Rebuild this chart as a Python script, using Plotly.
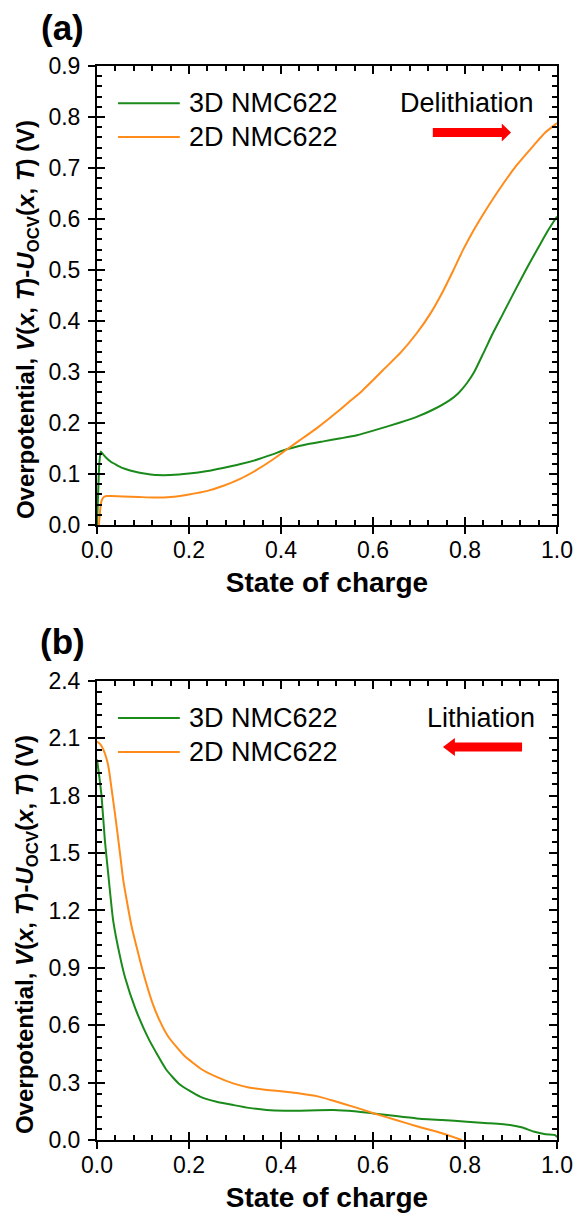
import plotly.graph_objects as go

# ---------------- data ----------------
# Panel (a): delithiation
soc_a_3d = [0, 0.002, 0.005, 0.008, 0.012, 0.02, 0.03, 0.042, 0.055, 0.072, 0.09, 0.11, 0.13,
            0.16, 0.2, 0.24, 0.274, 0.31, 0.347, 0.38, 0.414, 0.45, 0.492, 0.53, 0.565, 0.608,
            0.659, 0.695, 0.73, 0.767, 0.785, 0.804, 0.82, 0.84, 0.86, 0.883, 0.91, 0.934,
            0.96, 0.98, 1.0]
v_a_3d = [0, 0.05, 0.12, 0.144, 0.14, 0.132, 0.124, 0.118, 0.112, 0.107, 0.103, 0.100, 0.098,
          0.098, 0.101, 0.106, 0.112, 0.119, 0.128, 0.138, 0.149, 0.157, 0.164, 0.170, 0.176,
          0.187, 0.201, 0.212, 0.226, 0.245, 0.258, 0.278, 0.300, 0.337, 0.375, 0.415, 0.462,
          0.503, 0.545, 0.577, 0.605]

soc_a_2d = [0.004, 0.006, 0.008, 0.011, 0.015, 0.021, 0.03, 0.057, 0.09, 0.122, 0.16, 0.2,
            0.24, 0.275, 0.31, 0.347, 0.38, 0.414, 0.45, 0.478, 0.52, 0.55, 0.575, 0.6, 0.622,
            0.66, 0.695, 0.725, 0.753, 0.775, 0.796, 0.82, 0.84, 0.87, 0.912, 0.95, 0.975, 1.0]
v_a_2d = [0, 0.02, 0.04, 0.05, 0.055, 0.057, 0.057, 0.056, 0.055, 0.054, 0.055, 0.060,
          0.067, 0.077, 0.090, 0.108, 0.127, 0.149, 0.172, 0.190, 0.220, 0.243, 0.262, 0.284,
          0.304, 0.338, 0.376, 0.415, 0.460, 0.500, 0.540, 0.580, 0.610, 0.652, 0.705, 0.745,
          0.770, 0.788]

# Panel (b): lithiation
soc_b_3d = [0, 0.005, 0.01, 0.017, 0.025, 0.035, 0.05, 0.061, 0.083, 0.112, 0.15, 0.18, 0.224,
            0.26, 0.296, 0.33, 0.369, 0.41, 0.441, 0.48, 0.514, 0.56, 0.601, 0.65, 0.695, 0.75,
            0.804, 0.85, 0.898, 0.925, 0.949, 0.975, 0.996, 1.0]
v_b_3d = [1.99, 1.90, 1.795, 1.57, 1.377, 1.15, 0.96, 0.85, 0.69, 0.53, 0.37, 0.29, 0.227,
          0.20, 0.183, 0.168, 0.157, 0.153, 0.153, 0.156, 0.157, 0.150, 0.139, 0.125, 0.113,
          0.104, 0.096, 0.088, 0.078, 0.065, 0.044, 0.030, 0.026, 0.015]

soc_b_2d = [0, 0.007, 0.014, 0.02, 0.025, 0.032, 0.039, 0.05, 0.057, 0.0645, 0.0754, 0.086,
            0.101, 0.12, 0.137, 0.155, 0.19, 0.227, 0.26, 0.296, 0.33, 0.369, 0.41, 0.441,
            0.48, 0.514, 0.56, 0.601, 0.65, 0.695, 0.75, 0.793]
v_b_2d = [2.083, 2.07, 2.04, 2.0, 1.95, 1.83, 1.708, 1.499, 1.36, 1.255, 1.115, 1.01,
          0.87, 0.72, 0.62, 0.54, 0.44, 0.37, 0.33, 0.296, 0.275, 0.262, 0.252, 0.243,
          0.228, 0.205, 0.172, 0.14, 0.105, 0.072, 0.035, 0.0]

series_names = ["3D NMC622", "2D NMC622"]
x_ticks = [0.0, 0.2, 0.4, 0.6, 0.8, 1.0]
y_ticks_a = [0.0, 0.1, 0.2, 0.3, 0.4, 0.5, 0.6, 0.7, 0.8, 0.9]
y_ticks_b = [0.0, 0.3, 0.6, 0.9, 1.2, 1.5, 1.8, 2.1, 2.4]

GREEN = "#1a8a1a"
ORANGE = "#ff8c1a"
FONT = "Liberation Sans"

fig = go.Figure()

def add_line(x, y, color, xa, ya, name):
    fig.add_trace(go.Scatter(x=x, y=y, mode="lines", name=name, xaxis=xa, yaxis=ya,
                             line=dict(color=color, width=2, shape="spline", smoothing=0.5),
                             showlegend=False, hoverinfo="skip"))

add_line(soc_a_3d, v_a_3d, GREEN, "x", "y", series_names[0])
add_line(soc_a_2d, v_a_2d, ORANGE, "x", "y", series_names[1])
add_line(soc_b_3d, v_b_3d, GREEN, "x2", "y2", series_names[0])
add_line(soc_b_2d, v_b_2d, ORANGE, "x2", "y2", series_names[1])
# invisible traces so the overlay (outside-tick) axes are drawn
for xa, ya in [("x3", "y3"), ("x4", "y4")]:
    fig.add_trace(go.Scatter(x=[None], y=[None], xaxis=xa, yaxis=ya, showlegend=False,
                             hoverinfo="skip"))

tickfont = dict(family=FONT, size=23, color="black")
ytitle = ("<b>Overpotential, <i>V</i>(<i>x</i>, <i>T</i>)-<i>U</i><sub>OCV</sub>"
          "(<i>x</i>, <i>T</i>) (V)</b>")
xtitle = "<b>State of charge</b>"

def main_x(anchor):
    return dict(anchor=anchor, domain=[0, 1], range=[0, 1], tickvals=x_ticks,
                ticktext=[f"{v:.1f}" for v in x_ticks],
                ticks="inside", ticklen=8, tickwidth=2, tickcolor="black",
                minor=dict(tickmode="linear", tick0=0, dtick=0.04, ticks="inside", ticklen=5,
                           tickwidth=1.5, tickcolor="black", showgrid=False),
                mirror="allticks", showline=True, linewidth=2, linecolor="black",
                showgrid=False, zeroline=False, tickfont=tickfont, ticklabelstandoff=3,
                ticklabeloverflow="allow", automargin=False,
                title=dict(text=xtitle, font=dict(family=FONT, size=28, color="black"),
                           standoff=11))

def main_y(anchor, domain, ymax, ticks, dtick_minor):
    return dict(anchor=anchor, domain=domain, range=[0, ymax], tickvals=ticks,
                ticktext=[f"{v:.1f}" for v in ticks],
                ticks="inside", ticklen=8, tickwidth=2, tickcolor="black",
                minor=dict(tickmode="linear", tick0=0, dtick=dtick_minor, ticks="inside",
                           ticklen=5, tickwidth=1.5, tickcolor="black", showgrid=False),
                mirror="allticks", showline=True, linewidth=2, linecolor="black",
                showgrid=False, zeroline=False, tickfont=tickfont, ticklabelstandoff=10,
                ticklabeloverflow="allow", automargin=False)

def over_x(overlay, anchor):
    return dict(overlaying=overlay, anchor=anchor, side="bottom", range=[0, 1],
                tickvals=x_ticks, ticks="outside", ticklen=8, tickwidth=2, tickcolor="black",
                showticklabels=False, showline=False, showgrid=False, zeroline=False,
                automargin=False)

def over_y(overlay, anchor, ymax, ticks):
    return dict(overlaying=overlay, anchor=anchor, side="left", range=[0, ymax],
                tickvals=ticks, ticks="outside", ticklen=8, tickwidth=2, tickcolor="black",
                showticklabels=False, showline=False, showgrid=False, zeroline=False,
                automargin=False)

dom_a = [0.5726, 1.0]
dom_b = [0.0, 0.4274]

fig.update_layout(
    width=577, height=1219, autosize=False,
    margin=dict(l=97, r=20, t=66, b=79, autoexpand=False),
    paper_bgcolor="white", plot_bgcolor="white",
    font=dict(family=FONT, color="black"),
    xaxis=main_x("y"),
    yaxis=main_y("x", dom_a, 0.9, y_ticks_a, 0.02),
    xaxis2=main_x("y2"),
    yaxis2=main_y("x2", dom_b, 2.4, y_ticks_b, 0.06),
    xaxis3=over_x("x", "y"),
    yaxis3=over_y("y", "x", 0.9, y_ticks_a),
    xaxis4=over_x("x2", "y2"),
    yaxis4=over_y("y2", "x2", 2.4, y_ticks_b),
    showlegend=False,
)

shapes = []
annotations = []
lab_font = dict(family=FONT, size=27, color="black")

# legends drawn as line samples + text
for xr, yr, ys in [("x", "y", [0.827, 0.761]), ("x2", "y2", [2.207, 2.029])]:
    for name, color, yv in zip(series_names, [GREEN, ORANGE], ys):
        shapes.append(dict(type="line", xref=xr, yref=yr, x0=0.0457, x1=0.180, y0=yv, y1=yv,
                           line=dict(color=color, width=2)))
        annotations.append(dict(text=name, xref=xr, yref=yr, x=0.196, y=yv, xanchor="left",
                                yanchor="middle", showarrow=False, font=lab_font))

# y-axis titles (rotated)
for yc in [0.7635, 0.1909]:
    annotations.append(dict(text=ytitle, xref="paper", yref="paper", x=-0.152, y=yc,
                            xanchor="center", yanchor="middle", textangle=-90,
                            showarrow=False, font=dict(family=FONT, size=24, color="black")))

# direction labels and arrows
annotations.append(dict(text="Delithiation", xref="x", yref="y", x=0.805, y=0.827,
                        xanchor="center", yanchor="middle", showarrow=False, font=lab_font))
annotations.append(dict(text="Lithiation", xref="x2", yref="y2", x=0.835, y=2.207,
                        xanchor="center", yanchor="middle", showarrow=False, font=lab_font))

def arrow_path(x_tail, x_base, x_tip, yc, hb, hh):
    return (f"M{x_tail},{yc-hb} L{x_base},{yc-hb} L{x_base},{yc-hh} L{x_tip},{yc} "
            f"L{x_base},{yc+hh} L{x_base},{yc+hb} L{x_tail},{yc+hb} Z")

shapes.append(dict(type="path", xref="x", yref="y",
                   path=arrow_path(0.730, 0.880, 0.900, 0.7696, 0.0088, 0.0176),
                   fillcolor="#ff0000", line=dict(width=0)))
shapes.append(dict(type="path", xref="x2", yref="y2",
                   path=arrow_path(0.924, 0.778, 0.752, 2.055, 0.0235, 0.047),
                   fillcolor="#ff0000", line=dict(width=0)))

# panel letters
annotations.append(dict(text="<b>(a)</b>", xref="paper", yref="paper", x=-0.076, y=1.0354,
                        xanchor="center", yanchor="middle", showarrow=False,
                        font=dict(family=FONT, size=35, color="black")))
annotations.append(dict(text="<b>(b)</b>", xref="paper", yref="paper", x=-0.076, y=0.4646,
                        xanchor="center", yanchor="middle", showarrow=False,
                        font=dict(family=FONT, size=35, color="black")))

fig.update_layout(shapes=shapes, annotations=annotations)
fig.write_html("out.html", config={"responsive": False})
